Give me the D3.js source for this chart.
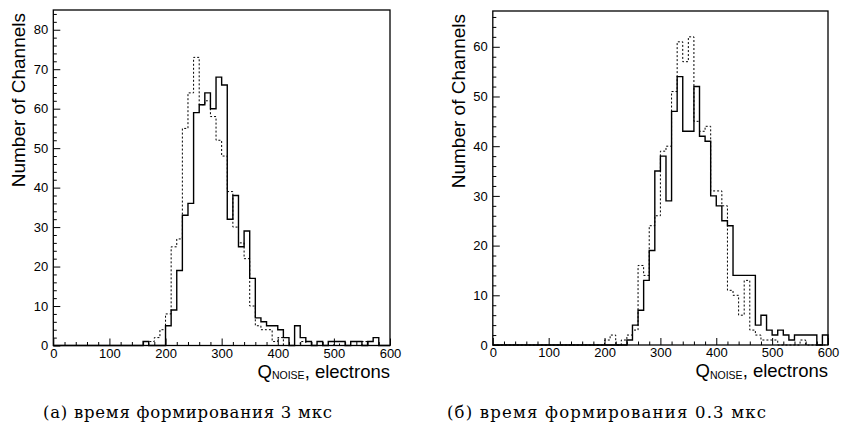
<!DOCTYPE html>
<html>
<head>
<meta charset="utf-8">
<script src="https://cdn.jsdelivr.net/npm/d3@7"></script>
<style>
  html, body { margin: 0; padding: 0; background: #fff; }
  svg { display: block; }
  .tick text { font-family: "Liberation Sans", Arial, sans-serif; font-size: 13px; fill: #000; }
</style>
</head>
<body>
<svg id="chart" width="841" height="435"></svg>
<script>
// Histogram bins: 10-electron wide, from 0 to 600
const binWidth = 10;
const binLower = d3.range(0, 600, binWidth);

// (а) shaping time 3 µs
const countsA_solid = [
  0,0,0,0,0,0,0,0,0,0, 0,0,0,0,0,0,1,0,0,0,
  5,9,19,33,36,59,61,64,60,68, 66,32,38,25,29,17,7,6,5,5,
  4,2,0,5,2,1,0,1,0,1, 1,1,0,1,1,0,1,2,0,0
];
const countsA_dotted = [
  0,0,0,0,0,0,0,0,0,0, 0,0,0,0,0,0,0,1,2,4,
  8,25,27,55,64,73,61,62,58,52, 48,39,30,26,22,10,5,4,4,1,
  2,0,0,0,1,0,0,0,0,0, 1,0,0,0,0,1,0,0,0,0
];

// (б) shaping time 0.3 µs
const countsB_solid = [
  0,0,0,0,0,0,0,0,0,0, 0,0,0,0,0,0,0,0,0,0,
  0,0,0,0,1,4,7,13,19,35, 38,29,47,54,43,43,52,42,41,30,
  28,25,24,14,14,14,14,4,6,3, 2,3,2,1,2,2,2,2,0,2
];
const countsB_dotted = [
  0,0,0,0,0,0,0,0,0,0, 0,0,0,0,0,0,0,0,0,0,
  1,2,0,1,2,3,16,14,24,26, 39,40,51,61,57,62,45,43,44,31,
  31,28,11,10,6,13,3,2,1,1, 1,0,0,0,0,1,0,0,0,0
];

const xTicksMajor = [0, 100, 200, 300, 400, 500, 600];
const yTicksA = [0, 10, 20, 30, 40, 50, 60, 70, 80];
const yTicksB = [0, 10, 20, 30, 40, 50, 60];

const yTitle = "Number of Channels";
const xTitleMain = "Q", xTitleSub = "NOISE", xTitleRest = ", electrons";
const captions = ["(а) время формирования 3 мкс", "(б) время формирования 0.3 мкс"];

const panels = [
  { left: 53.3, right: 390, top: 10, bottom: 345.5, yMax: 85, yTicks: yTicksA,
    solid: countsA_solid, dotted: countsA_dotted,
    caption: captions[0], capX: 43, capW: 289 },
  { left: 492.8, right: 828, top: 11, bottom: 345, yMax: 67.2, yTicks: yTicksB,
    solid: countsB_solid, dotted: countsB_dotted,
    caption: captions[1], capX: 447, capW: 319 }
];

const svg = d3.select("#chart");

panels.forEach(p => {
  const x = d3.scaleLinear().domain([0, 600]).range([p.left, p.right]);
  const y = d3.scaleLinear().domain([0, p.yMax]).range([p.bottom, p.top]);
  const g = svg.append("g");

  // minor ticks (5 subdivisions per major interval)
  const xMinor = d3.range(0, 601, 20).filter(v => v % 100 !== 0);
  const yMinor = d3.range(0, p.yMax, 2).filter(v => v % 10 !== 0);

  g.append("g").attr("transform", `translate(0,${p.bottom})`)
    .call(d3.axisBottom(x).tickValues(xMinor).tickSize(-3.5).tickFormat(""))
    .call(a => a.select(".domain").remove())
    .selectAll("line").attr("stroke", "#000");
  g.append("g").attr("transform", `translate(${p.left},0)`)
    .call(d3.axisLeft(y).tickValues(yMinor).tickSize(-3.5).tickFormat(""))
    .call(a => a.select(".domain").remove())
    .selectAll("line").attr("stroke", "#000");

  const xa = g.append("g").attr("transform", `translate(0,${p.bottom})`)
    .call(d3.axisBottom(x).tickValues(xTicksMajor).tickSize(-7).tickPadding(3).tickFormat(d3.format("d")));
  xa.select(".domain").remove();
  xa.selectAll("line").attr("stroke", "#000");

  const ya = g.append("g").attr("transform", `translate(${p.left},0)`)
    .call(d3.axisLeft(y).tickValues(p.yTicks).tickSize(-7).tickPadding(5).tickFormat(d3.format("d")));
  ya.select(".domain").remove();
  ya.selectAll("line").attr("stroke", "#000");

  // histogram outlines
  const stepLine = d3.line().x(d => x(d[0])).y(d => y(d[1])).curve(d3.curveStepAfter);
  const pts = counts => [[0, 0], ...binLower.map((b, i) => [b, counts[i]]), [600, 0]];

  g.append("path").attr("d", stepLine(pts(p.dotted)))
    .attr("fill", "none").attr("stroke", "#000").attr("stroke-width", 1)
    .attr("stroke-dasharray", "2,2");
  g.append("path").attr("d", stepLine(pts(p.solid)))
    .attr("fill", "none").attr("stroke", "#000").attr("stroke-width", 1.4);

  // frame
  g.append("rect")
    .attr("x", p.left).attr("y", p.top)
    .attr("width", p.right - p.left).attr("height", p.bottom - p.top)
    .attr("fill", "none").attr("stroke", "#000").attr("stroke-width", 1.3);

  // axis titles
  g.append("text")
    .attr("transform", `translate(${p.left - 28},${p.top + 3}) rotate(-90)`)
    .attr("text-anchor", "end")
    .attr("font-family", "Liberation Sans, Arial, sans-serif")
    .attr("font-size", 19).attr("fill", "#000")
    .text(yTitle);

  const xt = g.append("text")
    .attr("x", p.right).attr("y", p.bottom + 32)
    .attr("text-anchor", "end")
    .attr("font-family", "Liberation Sans, Arial, sans-serif")
    .attr("font-size", 18.5).attr("fill", "#000");
  xt.append("tspan").text(xTitleMain);
  xt.append("tspan").attr("font-size", 10.5).attr("dy", 1.5).text(xTitleSub);
  xt.append("tspan").attr("dy", -1.5).text(xTitleRest);

  // caption below panel
  svg.append("text")
    .attr("x", p.capX).attr("y", 418)
    .attr("font-family", "DejaVu Serif, serif")
    .attr("font-size", 16.5).attr("fill", "#000")
    .attr("textLength", p.capW).attr("lengthAdjust", "spacing")
    .text(p.caption);
});
</script>
</body>
</html>
